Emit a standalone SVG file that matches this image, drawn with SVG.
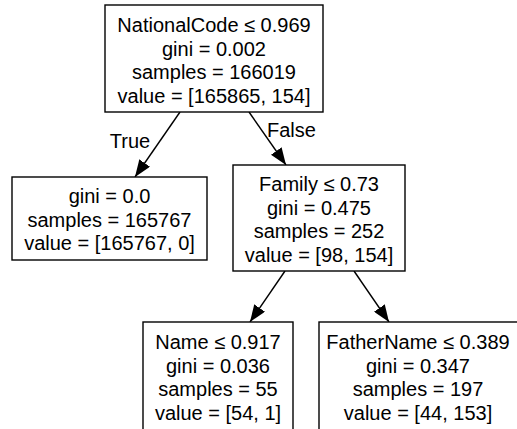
<svg xmlns="http://www.w3.org/2000/svg" width="517" height="429" viewBox="0 0 517 429">
<style>
  .box { fill: #ffffff; stroke: #000000; stroke-width: 1.4; }
  text { font-family: "Liberation Sans", Arial, Helvetica, sans-serif; font-size: 20px; fill: #000000; text-anchor: middle; }
  .edge { stroke: #000000; stroke-width: 1.4; fill: none; marker-end: url(#arrow); }
</style>
<defs>
  <marker id="arrow" markerUnits="userSpaceOnUse" markerWidth="17" markerHeight="13" refX="17" refY="6.5" orient="auto">
    <path d="M0,0 L17,6.5 L0,13 z" fill="#000000"/>
  </marker>
</defs>
<rect width="517" height="429" fill="#ffffff"/>
<g id="connectors">
  <line class="edge" x1="180" y1="112" x2="135" y2="177"/>
  <line class="edge" x1="249" y1="112" x2="286" y2="165"/>
  <line class="edge" x1="285" y1="271" x2="250" y2="322"/>
  <line class="edge" x1="354" y1="271" x2="389" y2="322"/>
  <text x="130" y="148">True</text>
  <text x="267" y="137" style="text-anchor:start">False</text>
</g>
<g id="node0">
  <rect class="box" x="105" y="5" width="218" height="107"/>
  <text x="214" y="32">NationalCode ≤ 0.969</text>
  <text x="214" y="55.5">gini = 0.002</text>
  <text x="214" y="79">samples = 166019</text>
  <text x="214" y="102.5">value = [165865, 154]</text>
</g>
<g id="node1">
  <rect class="box" x="12" y="177" width="195" height="83"/>
  <text x="109.5" y="203">gini = 0.0</text>
  <text x="109.5" y="226.5">samples = 165767</text>
  <text x="109.5" y="250">value = [165767, 0]</text>
</g>
<g id="node2">
  <rect class="box" x="233" y="165" width="172" height="106"/>
  <text x="319" y="191">Family ≤ 0.73</text>
  <text x="319" y="214.5">gini = 0.475</text>
  <text x="319" y="238">samples = 252</text>
  <text x="319" y="261.5">value = [98, 154]</text>
</g>
<g id="node3">
  <rect class="box" x="143" y="322" width="150" height="110"/>
  <text x="218" y="349">Name ≤ 0.917</text>
  <text x="218" y="372.5">gini = 0.036</text>
  <text x="218" y="396">samples = 55</text>
  <text x="218" y="419.5">value = [54, 1]</text>
</g>
<g id="node4">
  <rect class="box" x="319" y="322" width="202" height="110"/>
  <text x="418" y="349">FatherName ≤ 0.389</text>
  <text x="418" y="372.5">gini = 0.347</text>
  <text x="418" y="396">samples = 197</text>
  <text x="418" y="419.5">value = [44, 153]</text>
</g>
</svg>
